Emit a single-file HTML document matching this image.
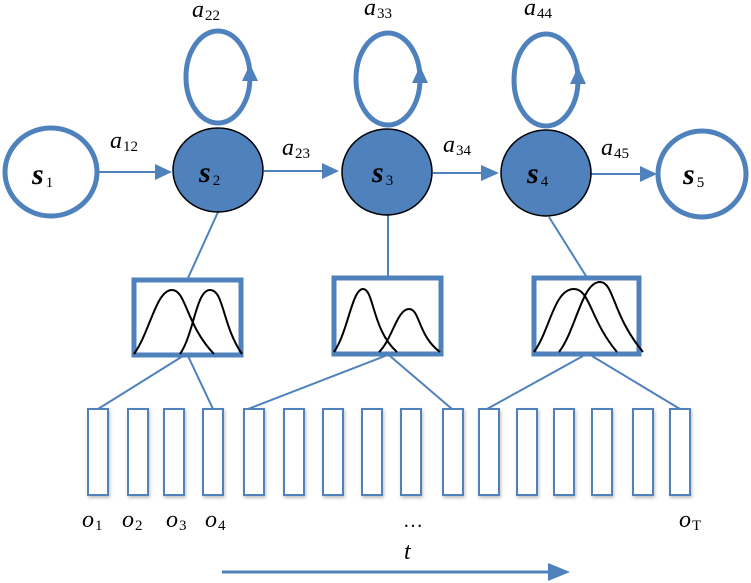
<!DOCTYPE html>
<html><head><meta charset="utf-8"><style>
html,body{margin:0;padding:0;background:#fff}
svg{display:block}
text{font-family:"Liberation Serif","DejaVu Serif",serif;font-style:italic;fill:#000}
.sub{font-style:normal;font-size:15px}
</style></head><body>
<svg width="751" height="583" viewBox="0 0 751 583" xmlns="http://www.w3.org/2000/svg">
<defs>
<filter id="sh" x="-30%" y="-10%" width="160%" height="130%"><feDropShadow dx="1" dy="2" stdDeviation="1.5" flood-color="#000" flood-opacity="0.25"/></filter>
</defs>
<g stroke="#4f81bd" fill="none">
<ellipse cx="218" cy="77" rx="32" ry="46" stroke-width="5"/>
<ellipse cx="388" cy="79" rx="32" ry="46" stroke-width="5"/>
<ellipse cx="546" cy="80" rx="32" ry="46" stroke-width="5"/>
<line x1="98" y1="172" x2="158" y2="172" stroke-width="2"/>
<line x1="264" y1="171" x2="325" y2="171" stroke-width="2"/>
<line x1="433" y1="173" x2="484" y2="173" stroke-width="2"/>
<line x1="591" y1="174" x2="643" y2="174" stroke-width="2"/>
<line x1="218" y1="212" x2="188" y2="278" stroke-width="2"/>
<line x1="388" y1="215" x2="388" y2="276" stroke-width="2"/>
<line x1="549" y1="217" x2="586" y2="276" stroke-width="2"/>
<line x1="183" y1="356" x2="98" y2="409" stroke-width="2"/>
<line x1="188" y1="356" x2="213" y2="409" stroke-width="2"/>
<line x1="385" y1="356" x2="248" y2="409" stroke-width="2"/>
<line x1="390" y1="356" x2="452" y2="409" stroke-width="2"/>
<line x1="583" y1="356" x2="487" y2="409" stroke-width="2"/>
<line x1="592" y1="356" x2="680" y2="409" stroke-width="2"/>
<line x1="222" y1="572" x2="550" y2="572" stroke-width="3"/>
<ellipse cx="51" cy="172" rx="46" ry="44" stroke-width="5" fill="#fff"/>
<ellipse cx="702" cy="174" rx="44" ry="43" stroke-width="5" fill="#fff"/>
<rect x="134" y="280" width="107" height="75" stroke-width="5"/>
<rect x="334" y="278" width="107" height="76" stroke-width="5"/>
<rect x="534" y="278" width="105" height="76" stroke-width="5"/>
</g>
<g fill="#4f81bd">
<polygon points="155,164 172,172 155,180"/>
<polygon points="322,163 339,171 322,179"/>
<polygon points="481,165 499,173 481,181"/>
<polygon points="640,166 657,174 640,182"/>
<polygon points="242,81 250,64 258,81"/>
<polygon points="412,83 420,66 428,83"/>
<polygon points="570,84 578,67 586,84"/>
<polygon points="548,563 570,572 548,581"/>
</g>
<g stroke="#000" stroke-width="1.5" fill="#4f81bd">
<ellipse cx="218" cy="170" rx="45" ry="42"/>
<ellipse cx="387" cy="172" rx="45" ry="43"/>
<ellipse cx="546" cy="173" rx="45" ry="43"/>
</g>
<g stroke="#000" stroke-width="2" fill="none">
<path d="M134,354 C150,332 156,290 172,290 C186,290 186,325 214,354"/>
<path d="M180,354 C194,334 196,290 210,290 C224,290 222,325 242,354"/>
<path d="M334,352 C348,332 352,289 363,289 C374,289 372,330 397,352"/>
<path d="M379,352 C392,340 397,309 409,309 C420,309 418,336 440,352"/>
<path d="M534,352 C550,330 554,289 574,289 C590,289 590,320 617,352"/>
<path d="M559,352 C576,330 582,282 600,282 C614,282 612,315 643,352"/>
</g>
<g stroke="#4f81bd" stroke-width="2" fill="#fff" filter="url(#sh)">
<rect x="88" y="409" width="20" height="86"/>
<rect x="128" y="409" width="20" height="86"/>
<rect x="164" y="409" width="20" height="86"/>
<rect x="203" y="409" width="20" height="86"/>
<rect x="244" y="409" width="20" height="86"/>
<rect x="284" y="409" width="20" height="86"/>
<rect x="323" y="409" width="20" height="86"/>
<rect x="362" y="409" width="20" height="86"/>
<rect x="401" y="409" width="20" height="86"/>
<rect x="443" y="409" width="20" height="86"/>
<rect x="479" y="409" width="20" height="86"/>
<rect x="517" y="409" width="20" height="86"/>
<rect x="554" y="409" width="20" height="86"/>
<rect x="592" y="409" width="20" height="86"/>
<rect x="633" y="409" width="20" height="86"/>
<rect x="670" y="409" width="20" height="86"/>
</g>
<g font-size="24">
<text x="192" y="17">a<tspan class="sub" dx="1" dy="3">22</tspan></text>
<text x="364" y="15">a<tspan class="sub" dx="1" dy="3">33</tspan></text>
<text x="524" y="15">a<tspan class="sub" dx="1" dy="3">44</tspan></text>
<text x="110" y="148">a<tspan class="sub" dx="1" dy="3">12</tspan></text>
<text x="282" y="155">a<tspan class="sub" dx="1" dy="3">23</tspan></text>
<text x="443" y="152">a<tspan class="sub" dx="1" dy="3">34</tspan></text>
<text x="601" y="155">a<tspan class="sub" dx="1" dy="3">45</tspan></text>
</g>
<g font-size="30" font-weight="bold">
<text x="32" y="184">s<tspan class="sub" font-weight="normal" dx="2" dy="3" font-size="16">1</tspan></text>
<text x="199" y="182">s<tspan class="sub" font-weight="normal" dx="2" dy="3" font-size="16">2</tspan></text>
<text x="372" y="182">s<tspan class="sub" font-weight="normal" dx="2" dy="3" font-size="16">3</tspan></text>
<text x="527" y="183">s<tspan class="sub" font-weight="normal" dx="2" dy="3" font-size="16">4</tspan></text>
<text x="683" y="184">s<tspan class="sub" font-weight="normal" dx="2" dy="3" font-size="16">5</tspan></text>
</g>
<g font-size="24">
<text x="82" y="527">o<tspan class="sub" dx="1" dy="3">1</tspan></text>
<text x="122" y="527">o<tspan class="sub" dx="1" dy="3">2</tspan></text>
<text x="166" y="527">o<tspan class="sub" dx="1" dy="3">3</tspan></text>
<text x="205" y="527">o<tspan class="sub" dx="1" dy="3">4</tspan></text>
<text x="403" y="527" style="font-style:normal;font-size:20px">…</text>
<text x="679" y="527">o<tspan class="sub" dx="1" dy="3">T</tspan></text>
<text x="404" y="559">t</text>
</g>
</svg>
</body></html>
